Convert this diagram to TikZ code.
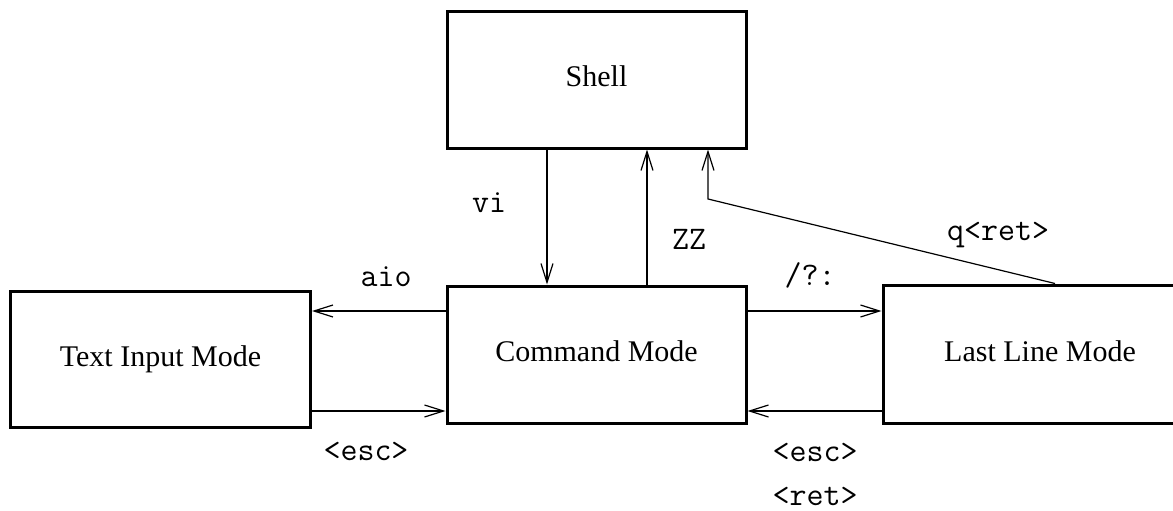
\documentclass[tikz,border=0pt]{standalone}
\usepackage{fontspec}
\setmainfont{Liberation Serif}
\usetikzlibrary{arrows.meta}
\begin{document}
\begin{tikzpicture}[x=1pt,y=-1pt,
  box/.style={draw, line width=3pt, rectangle, inner sep=0pt,
    font=\fontsize{30}{36}\selectfont, text height=20pt, text depth=6pt},
  arr/.style={line width=1.2pt, -{Straight Barb[length=19pt,width=12pt,line width=1.2pt]}},
  lbl/.style={anchor=base, inner sep=0pt, font=\fontsize{33}{38}\selectfont\ttfamily}]
\useasboundingbox (0,0) rectangle (1173,511);
\begin{scope}
\clip (0,0) rectangle (1173,511);
\node[box, minimum width=299pt, minimum height=136pt] (shell) at (596.5,80) {Shell};
\node[box, minimum width=300pt, minimum height=136pt] (tim) at (160.5,359) {Text Input Mode};
\node[box, minimum width=299pt, minimum height=137pt] (cmd) at (596.5,354.5) {Command Mode};
\node[box, minimum width=314pt, minimum height=138pt] (llm) at (1040,354) {Last Line Mode};
\end{scope}
\coordinate (vix) at (547,0);
\coordinate (zzx) at (647,0);
\coordinate (qx) at (1055,0);
\coordinate (bend) at (708,199);
\coordinate (upper) at (0,311);
\coordinate (lower) at (0,411);
\draw[arr] (shell.south -| vix) -- (cmd.north -| vix);
\draw[arr] (cmd.north -| zzx) -- (shell.south -| zzx);
\draw[arr] (llm.north -| qx) -- (bend) -- (shell.south -| bend);
\draw[arr] (cmd.west |- upper) -- (tim.east |- upper);
\draw[arr] (tim.east |- lower) -- (cmd.west |- lower);
\draw[arr] (cmd.east |- upper) -- (llm.west |- upper);
\draw[arr] (llm.west |- lower) -- (cmd.east |- lower);
\node[lbl] (lvi) at (489,212) {vi};
\node[lbl] (lzz) at (689,249) {ZZ};
\node[lbl] (laio) at (386,286) {aio};
\node[lbl] (lsl) at (810,285) {/?:};
\node[lbl] (lq) at (998,240) {q<ret>};
\node[lbl] (lesc1) at (366,460) {<esc>};
\node[lbl] (lesc2) at (815,461) {<esc>};
\node[lbl] (lret) at (815,505) {<ret>};
\end{tikzpicture}
\end{document}
